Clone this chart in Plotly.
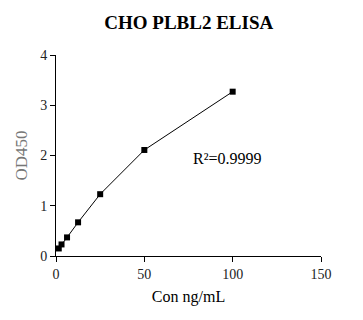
import plotly.graph_objects as go

conc = [1.5625, 3.125, 6.25, 12.5, 25, 50, 100]
od450 = [0.15, 0.23, 0.37, 0.67, 1.23, 2.11, 3.27]
x_ticks = [0, 50, 100, 150]
y_ticks = [0, 1, 2, 3, 4]

font = "Liberation Serif"
fig = go.Figure()
fig.add_trace(go.Scatter(
    x=conc, y=od450, mode="lines+markers",
    line=dict(color="black", width=1),
    marker=dict(symbol="square", size=6, color="black"),
    showlegend=False,
))
fig.add_annotation(x=97, y=1.95, xref="x", yref="y", text="R²=0.9999",
                   showarrow=False, font=dict(family=font, size=16, color="black"))
axis_common = dict(showgrid=False, zeroline=False, showline=True, linecolor="black",
                   linewidth=1, ticks="outside", ticklen=5, tickcolor="black",
                   tickfont=dict(family=font, size=14, color="#222"))
fig.update_xaxes(range=[0, 150], tickvals=x_ticks,
                 title=dict(text="Con ng/mL", font=dict(family=font, size=16, color="black"), standoff=10),
                 **axis_common)
fig.update_yaxes(range=[0, 4], tickvals=y_ticks,
                 title=dict(text="OD450", font=dict(family=font, size=17, color="#777"), standoff=8),
                 **axis_common)
fig.update_layout(
    width=363, height=320,
    margin=dict(l=56, r=42, t=55, b=64),
    paper_bgcolor="white", plot_bgcolor="white",
    title=dict(text="<b>CHO PLBL2 ELISA</b>", x=0.52, xanchor="center", y=0.93, yanchor="middle",
               font=dict(family=font, size=19, color="black")),
)
fig.write_html("out.html")
